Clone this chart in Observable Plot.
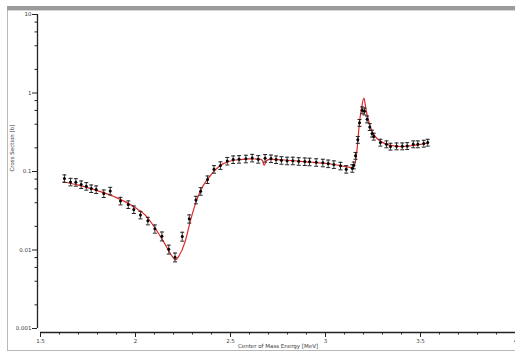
<!DOCTYPE html>
<html>
<head>
<meta charset="utf-8">
<script src="https://cdn.jsdelivr.net/npm/d3@7"></script>
<script src="https://cdn.jsdelivr.net/npm/@observablehq/plot@0.6"></script>
<style>
  body { margin: 0; background: #fff; }
  #wrap { position: relative; width: 515px; height: 352px; overflow: hidden; background: #fff; }
  .fr { position: absolute; }
  #chart { position: absolute; left: 0; top: 0; }
  #chart svg { background: transparent; }
</style>
</head>
<body>
<div id="wrap">
  <div class="fr" style="left:7px;top:6px;width:508px;height:4px;background:#9b9b9b"></div>
  <div class="fr" style="left:7px;top:10px;width:508px;height:1px;background:#d6d6d6"></div>
  <div class="fr" style="left:7px;top:10px;width:1px;height:341px;background:#b8b8b8"></div>
  <div class="fr" style="left:7px;top:350px;width:508px;height:1px;background:#b8b8b8"></div>
  <div id="chart"></div>
</div>
<script>
// Measured data points (Center of Mass Energy [MeV], Cross Section [b])
const energy = [
  1.626, 1.658, 1.686, 1.714, 1.741, 1.767, 1.793, 1.833, 1.867, 1.921,
  1.962, 1.991, 2.026, 2.065, 2.102, 2.139, 2.175, 2.208, 2.246, 2.283,
  2.318, 2.343, 2.379, 2.413, 2.447, 2.483, 2.514, 2.545, 2.581, 2.614,
  2.646, 2.682, 2.713, 2.740, 2.768, 2.798, 2.828, 2.859, 2.891, 2.916,
  2.951, 2.986, 3.014, 3.044, 3.079, 3.109, 3.141, 3.149, 3.158, 3.170,
  3.179, 3.193, 3.205, 3.219, 3.233, 3.245, 3.254, 3.289, 3.321, 3.342,
  3.374, 3.404, 3.430, 3.462, 3.486, 3.517, 3.538
];
const sigma = [
  0.0815, 0.0737, 0.0730, 0.0683, 0.0650, 0.0607, 0.0590, 0.0524, 0.0566, 0.0422,
  0.0380, 0.0328, 0.0280, 0.0235, 0.0186, 0.0150, 0.0102, 0.0081, 0.0149, 0.0250,
  0.0435, 0.0560, 0.0790, 0.1070, 0.1196, 0.1360, 0.1420, 0.1435, 0.1450, 0.1490,
  0.1435, 0.1480, 0.1460, 0.1420, 0.1390, 0.1370, 0.1370, 0.1350, 0.1340, 0.1330,
  0.1310, 0.1290, 0.1260, 0.1230, 0.1180, 0.1070, 0.1100, 0.1200, 0.1590, 0.2540,
  0.4180, 0.6040, 0.5840, 0.4630, 0.3700, 0.3050, 0.2790, 0.2340, 0.2230, 0.2080,
  0.2100, 0.2100, 0.2120, 0.2230, 0.2230, 0.2270, 0.2340
];
// relative uncertainty of each point
const relErr = [
  0.11, 0.11, 0.11, 0.11, 0.11, 0.11, 0.11, 0.11, 0.11, 0.11,
  0.11, 0.11, 0.11, 0.11, 0.12, 0.13, 0.13, 0.13, 0.13, 0.12,
  0.11, 0.11, 0.11, 0.11, 0.11, 0.11, 0.11, 0.11, 0.11, 0.11,
  0.11, 0.11, 0.11, 0.11, 0.11, 0.11, 0.11, 0.11, 0.11, 0.11,
  0.11, 0.11, 0.11, 0.11, 0.11, 0.11, 0.11, 0.10, 0.10, 0.10,
  0.10, 0.10, 0.10, 0.10, 0.10, 0.10, 0.10, 0.10, 0.10, 0.10,
  0.10, 0.10, 0.10, 0.10, 0.10, 0.10, 0.10
];
// Fitted curve
const fitEnergy = [
  1.62, 1.70, 1.80, 1.90, 2.00, 2.05, 2.10, 2.15, 2.19, 2.21,
  2.23, 2.26, 2.29, 2.32, 2.35, 2.38, 2.42, 2.46, 2.50, 2.55,
  2.60, 2.65, 2.667, 2.677, 2.69, 2.71, 2.75, 2.80, 2.85, 2.90,
  2.95, 3.00, 3.05, 3.10, 3.14, 3.155, 3.167, 3.178, 3.190, 3.202,
  3.214, 3.228, 3.246, 3.27, 3.30, 3.34, 3.40, 3.45, 3.50, 3.54
];
const fitSigma = [
  0.074, 0.067, 0.057, 0.0465, 0.0345, 0.028, 0.0195, 0.0125, 0.0085, 0.0075,
  0.0085, 0.0125, 0.024, 0.042, 0.062, 0.080, 0.105, 0.125, 0.136, 0.142,
  0.145, 0.1435, 0.139, 0.120, 0.138, 0.143, 0.142, 0.139, 0.136, 0.133,
  0.130, 0.127, 0.122, 0.116, 0.112, 0.125, 0.20, 0.40, 0.65, 0.86,
  0.60, 0.43, 0.32, 0.265, 0.235, 0.215, 0.208, 0.213, 0.222, 0.232
];
const xMajorTicks = [1.5, 2, 2.5, 3, 3.5, 4];
const xMinorTicks = [1.6, 1.7, 1.8, 1.9, 2.1, 2.2, 2.3, 2.4, 2.6, 2.7, 2.8, 2.9,
  3.1, 3.2, 3.3, 3.4, 3.6, 3.7, 3.8, 3.9];
const yMajorTicks = [0.001, 0.01, 0.1, 1, 10];
const yMinorTicks = [0.002, 0.004, 0.006, 0.008, 0.02, 0.04, 0.06, 0.08,
  0.2, 0.4, 0.6, 0.8, 2, 4, 6, 8];
const yLabel = "Cross Section [b]";
const xLabel = "Center of Mass Energy [MeV]";

const points = energy.map((e, i) => ({
  E: e, s: sigma[i], lo: sigma[i] * (1 - relErr[i]), hi: sigma[i] * (1 + relErr[i])
}));
const fit = fitEnergy.map((e, i) => ({E: e, s: fitSigma[i]}));

const capSymbol = {
  draw(ctx, size) {
    const r = Math.sqrt(size / Math.PI);
    ctx.moveTo(-r, 0);
    ctx.lineTo(r, 0);
  }
};

const font = "DejaVu Sans, Verdana, sans-serif";
const txt = "#3a3a3a";

const chart = Plot.plot({
  width: 515,
  height: 352,
  marginLeft: 40,
  marginRight: 0,
  marginTop: 14,
  marginBottom: 24,
  style: {background: "transparent", fontFamily: font, fontSize: "5.5px", color: txt, overflow: "visible"},
  x: {type: "linear", domain: [1.5, 4]},
  y: {type: "log", domain: [0.001, 10]},
  marks: [
    Plot.ruleX([1.5], {dx: -3, stroke: "#222", strokeWidth: 1.3}),
    Plot.ruleY([0.001], {dy: 4, stroke: "#222", strokeWidth: 1.3}),
    Plot.axisX({ticks: xMajorTicks, tickSize: 5, tickPadding: 2, dy: 4, label: null,
      tickFormat: d => String(d), stroke: "#222", fill: txt, fontSize: 5.5}),
    Plot.axisX({ticks: xMinorTicks, tickSize: 2.5, dy: 4, label: null,
      tickFormat: () => "", stroke: "#222"}),
    Plot.axisY({ticks: yMajorTicks, tickSize: 5, tickPadding: 1, dx: -3, label: null,
      tickFormat: d => String(d), stroke: "#222", fill: txt, fontSize: 5.5}),
    Plot.axisY({ticks: yMinorTicks, tickSize: 2.5, dx: -3, label: null,
      tickFormat: () => "", stroke: "#222"}),
    Plot.text([yLabel], {frameAnchor: "left", rotate: -90, dx: -28, text: d => d,
      fill: txt, fontSize: 5.5}),
    Plot.text([xLabel], {frameAnchor: "bottom", dy: 19, text: d => d,
      fill: txt, fontSize: 5.5}),
    Plot.line(fit, {x: "E", y: "s", stroke: "#e0282a", strokeWidth: 1.2, curve: "monotone-x"}),
    Plot.ruleX(points, {x: "E", y1: "lo", y2: "hi", stroke: "#333", strokeWidth: 1}),
    Plot.dot(points, {x: "E", y: "hi", symbol: capSymbol, r: 2, stroke: "#222", strokeWidth: 1}),
    Plot.dot(points, {x: "E", y: "lo", symbol: capSymbol, r: 2, stroke: "#222", strokeWidth: 1}),
    Plot.dot(points, {x: "E", y: "s", r: 1.5, fill: "#000"})
  ]
});
document.getElementById("chart").appendChild(chart);
</script>
</body>
</html>
